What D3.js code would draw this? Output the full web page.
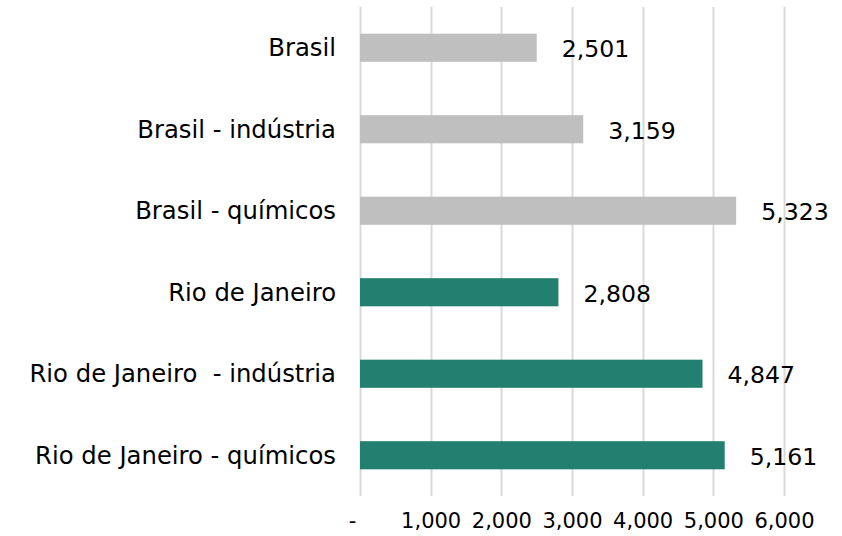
<!DOCTYPE html>
<html>
<head>
<meta charset="utf-8">
<script src="https://cdn.jsdelivr.net/npm/d3@7"></script>
<style>
  html, body { margin: 0; padding: 0; background: #fff; }
  svg { display: block; font-family: "DejaVu Sans", Verdana, sans-serif; }
</style>
</head>
<body>
<svg id="chart" width="842" height="536"></svg>
<script>
const categories = ["Brasil", "Brasil - indústria", "Brasil - químicos", "Rio de Janeiro", "Rio de Janeiro  - indústria", "Rio de Janeiro - químicos"];
const values = [2501, 3159, 5323, 2808, 4847, 5161];
const groups = ["Brasil", "Brasil", "Brasil", "Rio", "Rio", "Rio"];
const tickValues = [0, 1000, 2000, 3000, 4000, 5000, 6000];
const tickLabels = ["-", "1,000", "2,000", "3,000", "4,000", "5,000", "6,000"];

const svg = d3.select("#chart");
const x = d3.scaleLinear().domain([0, 6000]).range([360, 784]);
const y = d3.scaleBand().domain(categories).range([7, 496]).paddingInner(0.655).paddingOuter(0.3275);
const color = d3.scaleOrdinal().domain(["Brasil", "Rio"]).range(["#bfbfbf", "#237f6f"]);

// gridlines
svg.append("g")
  .selectAll("line")
  .data(tickValues)
  .join("line")
  .attr("x1", d => Math.round(x(d)) + 0.5)
  .attr("x2", d => Math.round(x(d)) + 0.5)
  .attr("y1", 7)
  .attr("y2", 496)
  .attr("stroke", "#d9d9d9")
  .attr("stroke-width", 2);

// x axis labels
const xAxis = d3.axisBottom(x)
  .tickValues(tickValues)
  .tickSize(0)
  .tickPadding(0)
  .tickFormat((d, i) => tickLabels[i]);
const gx = svg.append("g").attr("transform", "translate(0,521)").call(xAxis);
gx.select(".domain").remove();
gx.selectAll("text")
  .attr("dy", "0.35em")
  .attr("y", 0)
  .attr("font-size", 21)
  .attr("font-family", "DejaVu Sans, Verdana, sans-serif")
  .attr("fill", "#000")
  .attr("dx", (d) => d === 0 ? -8 : 0);

// bars
svg.append("g")
  .selectAll("rect")
  .data(categories)
  .join("rect")
  .attr("x", x(0))
  .attr("y", d => y(d))
  .attr("width", (d, i) => x(values[i]) - x(0))
  .attr("height", y.bandwidth())
  .attr("fill", (d, i) => color(groups[i]));

// category labels
const yAxis = d3.axisLeft(y).tickSize(0).tickPadding(0);
const gy = svg.append("g").attr("transform", "translate(336,0)").call(yAxis);
gy.select(".domain").remove();
gy.selectAll("text")
  .attr("font-size", 24.3)
  .attr("font-family", "DejaVu Sans, Verdana, sans-serif")
  .attr("fill", "#000")
  .attr("x", 0)
  .attr("dy", "0.35em")
  .style("white-space", "pre");

// value labels
svg.append("g")
  .selectAll("text")
  .data(categories)
  .join("text")
  .attr("x", (d, i) => x(values[i]) + 25)
  .attr("y", d => y(d) + y.bandwidth() / 2 + 1)
  .attr("dy", "0.35em")
  .attr("font-size", 23.6)
  .attr("fill", "#000")
  .text((d, i) => d3.format(",")(values[i]));
</script>
</body>
</html>
